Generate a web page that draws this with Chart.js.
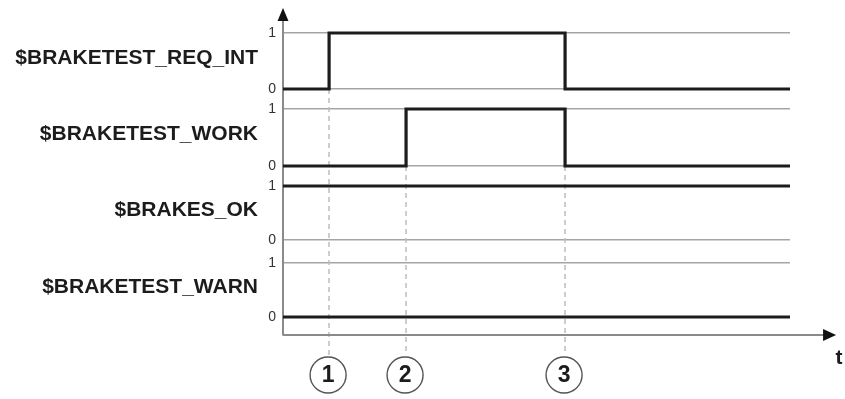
<!DOCTYPE html>
<html>
<head>
<meta charset="utf-8">
<script src="https://cdn.jsdelivr.net/npm/chart.js@4/dist/chart.umd.min.js"></script>
<style>
  html, body { margin: 0; padding: 0; background: #ffffff; }
  #wrap { width: 845px; height: 399px; }
</style>
</head>
<body>
<div id="wrap"><canvas id="c" width="845" height="399"></canvas></div>
<script>
// ---- data ----
const signalNames = ['$BRAKETEST_REQ_INT', '$BRAKETEST_WORK', '$BRAKES_OK', '$BRAKETEST_WARN'];
const eventLabels = ['1', '2', '3'];
const eventTimes = [1.0, 2.67, 6.12];
const startTime = 0;
const endTime = 11;
const axisEndTime = 12;
const timeAxisLabel = 't';
const levelTicks = [0, 1];
// signal level at start, then after each event
const reqIntLevels = [0, 1, 1, 0];
const workLevels = [0, 0, 1, 0];
const brakesOkLevels = [1, 1, 1, 1];
const warnLevels = [0, 0, 0, 0];
const signalLevels = [reqIntLevels, workLevels, brakesOkLevels, warnLevels];

// ---- styling / layout ----
const FONT = "'Liberation Sans', Arial, Helvetica, sans-serif";
const rowRanges = [[-0.161, 1.232], [-0.175, 1.193], [-0.204, 1.185], [-0.333, 1.222]];
const rowWeights = [78, 78, 75, 84];
const AXIS_COLOR = '#8a8a8a';
const GRID_COLOR = '#a5a5a5';
const SIGNAL_COLOR = '#1c1c1c';

function buildPoints(levels) {
  const pts = [{ x: startTime, y: levels[0] }];
  eventTimes.forEach((t, i) => pts.push({ x: t, y: levels[i + 1] }));
  pts.push({ x: endTime, y: levels[levels.length - 1] });
  return pts;
}

const scales = {
  x: { type: 'linear', min: startTime, max: endTime, display: false }
};
// stacked left axes are placed in reverse declaration order, so declare bottom row first
for (let i = signalNames.length - 1; i >= 0; i--) {
  scales['y' + i] = {
    type: 'linear',
    position: 'left',
    stack: 'signals',
    stackWeight: rowWeights[i],
    min: rowRanges[i][0],
    max: rowRanges[i][1],
    afterBuildTicks: (axis) => { axis.ticks = levelTicks.map(v => ({ value: v })); },
    afterFit: (axis) => { axis.width = 283; },
    grid: { color: GRID_COLOR, lineWidth: 1.5, drawTicks: false },
    border: { color: AXIS_COLOR, width: 2 },
    ticks: { color: '#333', font: { size: 14, family: FONT }, padding: 7 }
  };
}

const datasets = signalNames.map((name, i) => ({
  label: name,
  data: buildPoints(signalLevels[i]),
  yAxisID: 'y' + i,
  xAxisID: 'x',
  stepped: 'before',
  borderColor: SIGNAL_COLOR,
  borderWidth: 3.2,
  pointRadius: 0,
  fill: false,
  clip: false,
  borderCapStyle: 'butt',
  borderJoinStyle: 'miter'
}));

const decorPlugin = {
  id: 'decor',
  beforeDatasetsDraw(chart) {
    const ctx = chart.ctx;
    const xs = chart.scales.x;
    const circleY = 375, r = 18;
    ctx.save();
    ctx.strokeStyle = '#bdbdbd';
    ctx.lineWidth = 1.5;
    ctx.setLineDash([5, 4]);
    eventTimes.forEach((t, e) => {
      // lowest row whose level changes at this event
      let row = 0;
      signalLevels.forEach((lv, i) => { if (lv[e] !== lv[e + 1]) row = i; });
      const y0 = chart.scales['y' + row].getPixelForValue(0);
      const x = Math.round(xs.getPixelForValue(t));
      ctx.beginPath();
      ctx.moveTo(x, y0);
      ctx.lineTo(x, circleY - r - 2);
      ctx.stroke();
    });
    ctx.restore();
  },
  afterDraw(chart) {
    const ctx = chart.ctx;
    const xs = chart.scales.x;
    const area = chart.chartArea;
    const left = area.left, bottom = area.bottom;
    ctx.save();
    // time axis line
    const tip = xs.getPixelForValue(axisEndTime);
    ctx.strokeStyle = AXIS_COLOR;
    ctx.lineWidth = 2;
    ctx.beginPath();
    ctx.moveTo(left, bottom);
    ctx.lineTo(tip - 12, bottom);
    ctx.stroke();
    // arrows
    ctx.fillStyle = '#111';
    ctx.beginPath();
    ctx.moveTo(tip, bottom);
    ctx.lineTo(tip - 13, bottom - 6);
    ctx.lineTo(tip - 13, bottom + 6);
    ctx.closePath();
    ctx.fill();
    ctx.beginPath();
    ctx.moveTo(left, area.top - 12);
    ctx.lineTo(left - 5.5, area.top + 1);
    ctx.lineTo(left + 5.5, area.top + 1);
    ctx.closePath();
    ctx.fill();
    // t label
    ctx.fillStyle = '#1c1c1c';
    ctx.font = 'bold 21px ' + FONT;
    ctx.textAlign = 'center';
    ctx.textBaseline = 'middle';
    ctx.fillText(timeAxisLabel, tip + 3, bottom + 23);
    // event circles
    const circleY = 375, r = 18;
    eventTimes.forEach((t, e) => {
      const x = xs.getPixelForValue(t) - 1;
      ctx.beginPath();
      ctx.arc(x, circleY, r, 0, Math.PI * 2);
      ctx.fillStyle = '#fff';
      ctx.fill();
      ctx.strokeStyle = '#555';
      ctx.lineWidth = 1.4;
      ctx.stroke();
      ctx.fillStyle = '#1c1c1c';
      ctx.font = 'bold 23px ' + FONT;
      ctx.fillText(eventLabels[e], x, circleY + 1);
    });
    // signal names
    ctx.textAlign = 'right';
    ctx.font = 'bold 21px ' + FONT;
    signalNames.forEach((name, i) => {
      const y = chart.scales['y' + i].getPixelForValue(0.55);
      ctx.fillText(name, 258, y);
    });
    ctx.restore();
  }
};

new Chart(document.getElementById('c'), {
  type: 'line',
  data: { datasets },
  options: {
    responsive: false,
    devicePixelRatio: 1,
    animation: false,
    layout: { padding: { top: 20, right: 55, bottom: 64, left: 0 } },
    plugins: { legend: { display: false }, tooltip: { enabled: false }, title: { display: false } },
    scales
  },
  plugins: [decorPlugin]
});
</script>
</body>
</html>
